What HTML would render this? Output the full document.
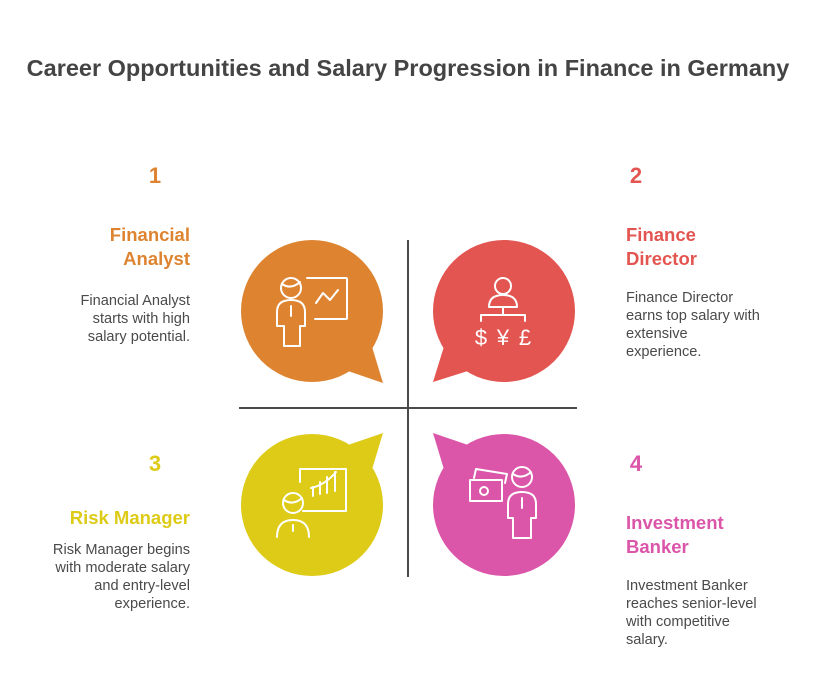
<!DOCTYPE html>
<html><head><meta charset="utf-8"><style>
html,body{margin:0;padding:0;background:#fff;}
svg{display:block;font-family:"Liberation Sans",Arial,sans-serif;}
.b{font-size:14.6px;fill:#4a4a4a;}
.t{font-size:18.5px;font-weight:bold;}
.n{font-size:22px;font-weight:bold;}
.ic{fill:none;stroke:#fff;stroke-width:2;stroke-linecap:round;stroke-linejoin:round;}
</style></head><body>
<svg width="813" height="700" viewBox="0 0 813 700">
<text x="408" y="76" text-anchor="middle" font-size="23.5" font-weight="bold" fill="#444">Career Opportunities and Salary Progression in Finance in Germany</text>

<line x1="408" y1="240" x2="408" y2="577" stroke="#4a4a4a" stroke-width="2"/>
<line x1="239" y1="408" x2="577" y2="408" stroke="#4a4a4a" stroke-width="2"/>

<circle cx="312" cy="311" r="71" fill="#DE8431"/>
<polygon points="345,370 383,383 370,340" fill="#DE8431"/>
<circle cx="504" cy="311" r="71" fill="#E35550"/>
<polygon points="471,370 433,382 446,340" fill="#E35550"/>
<circle cx="312" cy="505" r="71" fill="#DDCB17"/>
<polygon points="345,446 383,433 370,476" fill="#DDCB17"/>
<circle cx="504" cy="505" r="71" fill="#DB55A8"/>
<polygon points="471,446 433,433 446,476" fill="#DB55A8"/>

<g class="ic">
<circle cx="291" cy="288" r="10"/>
<path d="M282 284 Q291 290 300 282"/>
<path d="M277 326 V312 Q277 300 291 300 Q305 300 305 312 V326 H300 V346 H284 V326 Z"/>
<line x1="291" y1="306" x2="291" y2="316"/>
<path d="M307 278 H346 Q347 278 347 279 V318 Q347 319 346 319 H315"/>
<path d="M316 303 L323 293 L330 300 L338 290"/>
</g>
<g class="ic">
<circle cx="503" cy="286" r="8"/>
<path d="M489 307 Q489 295 503 295 Q517 295 517 307 Z"/>
<line x1="503" y1="307" x2="503" y2="315"/>
<path d="M481 321 V315 H525 V321"/>
</g>
<text x="481" y="345" text-anchor="middle" fill="#fff" font-size="22">$</text>
<text x="503" y="345" text-anchor="middle" fill="#fff" font-size="22">¥</text>
<text x="525" y="345" text-anchor="middle" fill="#fff" font-size="22">£</text>
<g class="ic">
<path d="M300 470 V469 H346 V511 H303"/>
<line x1="300" y1="470" x2="300" y2="482"/>
<path d="M313 496 V487 M320 494 V482 M327 493 V477 M335 491 V472"/>
<path d="M311 488 Q325 485 336 472"/>
<circle cx="293" cy="503" r="10"/>
<path d="M284 500 Q293 506 302 498"/>
<path d="M277 537 Q277 520 293 520 Q309 520 309 537"/>
<line x1="293" y1="525" x2="293" y2="531"/>
</g>
<g class="ic">
<path d="M474 478 L476 469 L507 474 L505 483"/>
<rect x="470" y="480" width="32" height="21"/>
<circle cx="484" cy="491" r="4"/>
<circle cx="522" cy="477" r="10"/>
<path d="M513 474 Q522 480 531 472"/>
<path d="M508 518 V504 Q508 492 522 492 Q536 492 536 504 V518 H531 V538 H513 V518 Z"/>
<line x1="522" y1="498" x2="522" y2="508"/>
</g>

<text x="155" y="183" text-anchor="middle" class="n" fill="#DE8431">1</text>
<text x="190" y="241" text-anchor="end" class="t" fill="#DE8431">Financial</text>
<text x="190" y="265" text-anchor="end" class="t" fill="#DE8431">Analyst</text>
<text x="190" y="305" text-anchor="end" class="b">Financial Analyst</text>
<text x="190" y="323" text-anchor="end" class="b">starts with high</text>
<text x="190" y="341" text-anchor="end" class="b">salary potential.</text>

<text x="636" y="183" text-anchor="middle" class="n" fill="#E35550">2</text>
<text x="626" y="241" class="t" fill="#E35550">Finance</text>
<text x="626" y="265" class="t" fill="#E35550">Director</text>
<text x="626" y="302" class="b">Finance Director</text>
<text x="626" y="320" class="b">earns top salary with</text>
<text x="626" y="338" class="b">extensive</text>
<text x="626" y="356" class="b">experience.</text>

<text x="155" y="471" text-anchor="middle" class="n" fill="#DDCB17">3</text>
<text x="190" y="524" text-anchor="end" class="t" fill="#DDCB17">Risk Manager</text>
<text x="190" y="554" text-anchor="end" class="b">Risk Manager begins</text>
<text x="190" y="572" text-anchor="end" class="b">with moderate salary</text>
<text x="190" y="590" text-anchor="end" class="b">and entry-level</text>
<text x="190" y="608" text-anchor="end" class="b">experience.</text>

<text x="636" y="471" text-anchor="middle" class="n" fill="#DB55A8">4</text>
<text x="626" y="529" class="t" fill="#DB55A8">Investment</text>
<text x="626" y="553" class="t" fill="#DB55A8">Banker</text>
<text x="626" y="590" class="b">Investment Banker</text>
<text x="626" y="608" class="b">reaches senior-level</text>
<text x="626" y="626" class="b">with competitive</text>
<text x="626" y="644" class="b">salary.</text>
</svg>
</body></html>
